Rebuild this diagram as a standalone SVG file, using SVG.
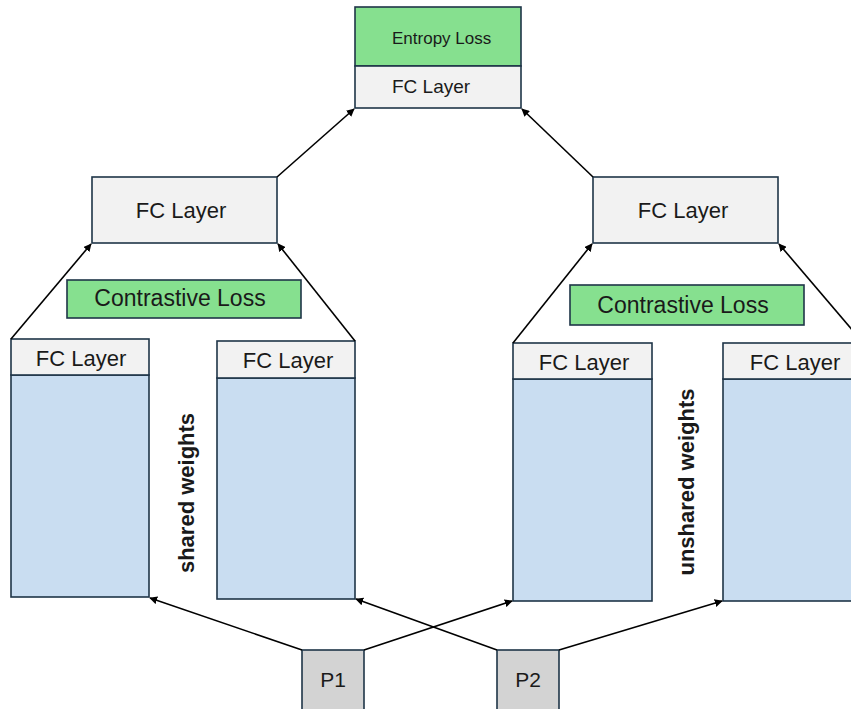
<svg xmlns="http://www.w3.org/2000/svg" width="851" height="709" viewBox="0 0 851 709">
<defs>
<style>
.b{stroke:#1f3548;stroke-width:1.6}
.g{fill:#f2f2f2}
.gr{fill:#86e08f}
.bl{fill:#c9ddf1}
.p{fill:#d3d3d3}
text{font-family:"Liberation Sans",Arial,sans-serif;fill:#1a1a1a}
.c{stroke:#000;stroke-width:1.6;fill:none;marker-end:url(#ah)}
</style>
<marker id="ah" viewBox="0 0 10 10" refX="9" refY="5" markerWidth="5" markerHeight="5" orient="auto-start-reverse">
<path d="M0,0 L10,5 L0,10 z" fill="#000"/>
</marker>
</defs>
<rect width="851" height="709" fill="#fff"/>
<g id="top">
<rect class="b gr" x="355" y="7" width="166" height="59"/>
<rect class="b g" x="355" y="66" width="166" height="42"/>
<text x="392" y="44" font-size="17">Entropy Loss</text>
<text x="392" y="93" font-size="19">FC Layer</text>
</g>
<g id="midL">
<rect class="b g" x="92" y="177" width="185" height="66"/>
<text x="181" y="218" font-size="22" text-anchor="middle">FC Layer</text>
</g>
<g id="midR">
<rect class="b g" x="593" y="177" width="185" height="66"/>
<text x="683" y="218" font-size="22" text-anchor="middle">FC Layer</text>
</g>
<g id="clL">
<rect class="b gr" x="67" y="280" width="234" height="38"/>
<text x="180" y="306" font-size="23" text-anchor="middle">Contrastive Loss</text>
</g>
<g id="clR">
<rect class="b gr" x="570" y="285" width="234" height="40"/>
<text x="683" y="313" font-size="23" text-anchor="middle">Contrastive Loss</text>
</g>
<g id="L1">
<rect class="b bl" x="11" y="375" width="138" height="222"/>
<rect class="b g" x="11" y="339" width="138" height="36"/>
<text x="81" y="366" font-size="22" text-anchor="middle">FC Layer</text>
</g>
<g id="L2">
<rect class="b bl" x="217" y="378" width="138" height="221"/>
<rect class="b g" x="217" y="341" width="138" height="37"/>
<text x="288" y="368" font-size="22" text-anchor="middle">FC Layer</text>
</g>
<g id="R1">
<rect class="b bl" x="513" y="379" width="139" height="222"/>
<rect class="b g" x="513" y="343" width="139" height="36"/>
<text x="584" y="370" font-size="22" text-anchor="middle">FC Layer</text>
</g>
<g id="R2">
<rect class="b bl" x="723" y="379" width="140" height="222"/>
<rect class="b g" x="723" y="343" width="140" height="36"/>
<text x="795" y="370" font-size="22" text-anchor="middle">FC Layer</text>
</g>
<g id="P1">
<rect class="b p" x="302" y="650" width="62" height="64"/>
<text x="333" y="687" font-size="21" text-anchor="middle">P1</text>
</g>
<g id="P2">
<rect class="b p" x="497" y="650" width="62" height="64"/>
<text x="528" y="687" font-size="21" text-anchor="middle">P2</text>
</g>
<g id="labels">
<text transform="translate(194,493) rotate(-90)" font-size="22" font-weight="bold" text-anchor="middle">shared weights</text>
<text transform="translate(694,482) rotate(-90)" font-size="22" font-weight="bold" text-anchor="middle">unshared weights</text>
</g>
<g id="connectors">
<line class="c" x1="302" y1="650" x2="150" y2="598"/>
<line class="c" x1="364" y1="650" x2="512" y2="601"/>
<line class="c" x1="497" y1="650" x2="356" y2="599"/>
<line class="c" x1="559" y1="650" x2="722" y2="601"/>
<line class="c" x1="11" y1="339" x2="91" y2="244"/>
<line class="c" x1="355" y1="341" x2="278" y2="244"/>
<line class="c" x1="513" y1="343" x2="592" y2="244"/>
<line class="c" x1="865" y1="345" x2="779" y2="244"/>
<line class="c" x1="277" y1="177" x2="354" y2="109"/>
<line class="c" x1="593" y1="177" x2="522" y2="109"/>
</g>
</svg>
